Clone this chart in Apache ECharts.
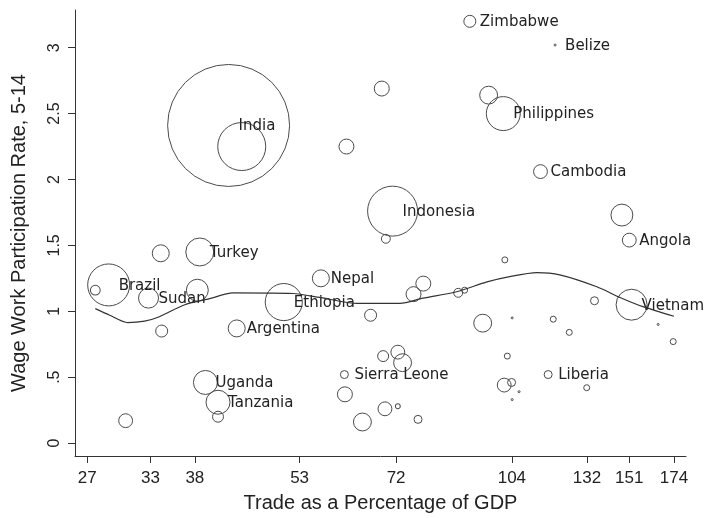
<!DOCTYPE html>
<html>
<head>
<meta charset="utf-8">
<script src="https://cdn.jsdelivr.net/npm/echarts@6/dist/echarts.min.js"></script>
<style>
  html, body { margin: 0; padding: 0; background: #fff; }
  #chart { width: 706px; height: 518px; }
</style>
</head>
<body>
<div id="chart"></div>
<script>
// country labels (blank = unlabelled bubble)
var names = ['Zimbabwe', 'Belize', 'India', '', '', '', '', 'Philippines', 'Cambodia', 'Indonesia',
  '', '', 'Angola', '', 'Turkey', 'Brazil', '', 'Sudan', '', 'Ethiopia',
  'Nepal', '', '', '', '', '', '', '', '', '',
  '', '', 'Vietnam', '', '', '', 'Argentina', 'Uganda', 'Tanzania', '',
  '', '', '', '', 'Sierra Leone', '', '', '', '', '',
  '', '', '', 'Liberia', '', '', '']
// trade as % of GDP
var trade = [91.0, 119.3, 42.3, 44.1, 68.8, 61.5, 96.6, 101.2, 113.9, 71.2,
  69.7, 147.5, 151.0, 34.1, 38.6, 28.9, 27.7, 32.8, 38.3, 50.4,
  56.7, 78.5, 76.1, 87.7, 89.5, 101.7, 66.4, 94.8, 104.1, 118.6,
  124.8, 135.2, 152.1, 165.5, 173.6, 34.2, 43.4, 39.3, 40.9, 40.9,
  30.5, 69.1, 72.4, 73.5, 61.1, 61.2, 69.5, 72.4, 77.2, 64.7,
  102.5, 101.5, 103.9, 116.7, 131.9, 106.4, 104.1]
// wage work participation rate, 5-14
var rate = [3.20, 3.02, 2.41, 2.25, 2.69, 2.25, 2.64, 2.50, 2.06, 1.76,
  1.55, 1.73, 1.54, 1.44, 1.45, 1.20, 1.16, 1.10, 1.16, 1.07,
  1.25, 1.21, 1.13, 1.14, 1.16, 1.39, 0.97, 0.91, 0.95, 0.94,
  0.84, 1.08, 1.05, 0.90, 0.77, 0.85, 0.87, 0.46, 0.31, 0.20,
  0.17, 0.66, 0.69, 0.61, 0.52, 0.37, 0.26, 0.28, 0.18, 0.16,
  0.66, 0.44, 0.46, 0.52, 0.42, 0.39, 0.33]
// bubble weights
var weight = [9, 0.25, 930, 144, 14, 14, 20, 72, 12, 156,
  5, 30, 12, 18, 49, 110, 6, 25, 30, 86,
  18, 14, 14, 5, 2.25, 2.25, 9, 20, 0.25, 2.25,
  2.25, 4, 60, 0.25, 2.25, 9, 18, 36, 36, 7.5,
  12, 7.5, 12, 20, 4, 14, 12, 1.5, 4, 20,
  2.25, 12, 4, 4, 2.25, 0.25, 0.25]

// lowess fit
var lowessX = [27.7, 29.0, 30.7, 32.4, 33.8, 36.8, 39.6, 42.9, 51.9, 56.5, 63.6,
  72.9, 78.4, 87.3, 96.1, 103.3, 112.6, 121.1, 136.2, 146.6, 157.7, 174]
var lowessY = [1.02, 0.97, 0.914, 0.925, 0.955, 1.05, 1.092, 1.139, 1.135, 1.105, 1.06,
  1.06, 1.10, 1.148, 1.223, 1.263, 1.293, 1.276, 1.186, 1.105, 1.035, 0.962]

var xTicks = [27, 33, 38, 53, 72, 104, 132, 151, 174]
var yTicks = [0, 0.5, 1, 1.5, 2, 2.5, 3]

var myChart = echarts.init(document.getElementById('chart'))

// x axis is logarithmic: plot ln(trade)
var points = trade.map(function (t, i) {
  return {
    value: [Math.log(t), rate[i]],
    symbolSize: 4 * Math.sqrt(weight[i]),
    label: { show: names[i] !== '', formatter: names[i] }
  }
})
var curve = lowessX.map(function (t, i) { return [Math.log(t), lowessY[i]] })

var axisColor = '#333'
var option = {
  backgroundColor: '#fff',
  animation: false,
  grid: { left: 75, right: 20, top: 10, bottom: 58 },
  xAxis: {
    type: 'value',
    min: Math.log(25.97),
    max: Math.log(180.8),
    name: 'Trade as a Percentage of GDP',
    nameLocation: 'middle',
    nameGap: 37,
    nameTextStyle: { fontFamily: 'Liberation Sans', fontSize: 20, color: '#222' },
    axisLine: { onZero: false, lineStyle: { color: axisColor, width: 1 } },
    axisTick: { show: true, length: 7, customValues: xTicks.map(Math.log), lineStyle: { color: axisColor } },
    axisLabel: {
      customValues: xTicks.map(Math.log),
      margin: 14,
      fontFamily: 'Liberation Sans',
      fontSize: 17,
      color: '#222',
      formatter: function (v) { return String(Math.round(Math.exp(v))) }
    },
    splitLine: { show: false }
  },
  yAxis: {
    type: 'value',
    min: -0.098,
    max: 3.286,
    name: 'Wage Work Participation Rate, 5-14',
    nameLocation: 'middle',
    nameRotate: 90,
    nameGap: 46,
    nameTextStyle: { fontFamily: 'Liberation Sans', fontSize: 20, color: '#222' },
    axisLine: { show: true, lineStyle: { color: axisColor, width: 1 } },
    axisTick: { show: true, length: 7, customValues: yTicks, lineStyle: { color: axisColor } },
    axisLabel: {
      customValues: yTicks,
      rotate: 90,
      margin: 12,
      fontFamily: 'Liberation Sans',
      fontSize: 16,
      color: '#222',
      formatter: function (v) { return String(v).replace(/^0\./, '.') }
    },
    splitLine: { show: false }
  },
  series: [
    {
      type: 'scatter',
      data: points,
      symbol: 'circle',
      itemStyle: { color: 'rgba(0,0,0,0)', borderColor: '#4a4a4a', borderWidth: 1, opacity: 1 },
      label: {
        position: 'inside',
        align: 'left',
        verticalAlign: 'middle',
        offset: [10, 1],
        fontFamily: 'DejaVu Sans',
        fontSize: 15,
        color: '#222'
      },
      emphasis: { disabled: true }
    },
    {
      type: 'line',
      data: curve,
      showSymbol: false,
      smooth: 0.25,
      lineStyle: { color: '#333', width: 1.2 },
      emphasis: { disabled: true }
    }
  ]
}
myChart.setOption(option)
</script>
</body>
</html>
